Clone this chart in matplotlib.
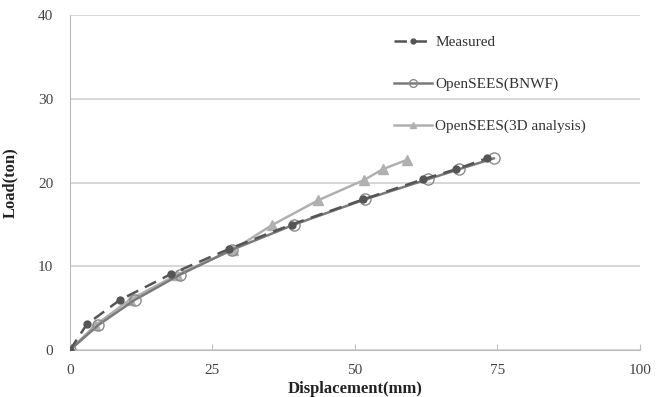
import matplotlib
matplotlib.use("Agg")
import matplotlib.pyplot as plt

# data
measured_x = [0, 3, 8.8, 17.8, 28, 38.9, 51.5, 62, 67.8, 73.2]
measured_y = [0, 3.1, 6.0, 9.1, 12.1, 15.0, 18.0, 20.4, 21.6, 22.9]

bnwf_x = [0, 5, 11.4, 19.3, 28.5, 39.4, 51.8, 62.8, 68.3, 74.4]
bnwf_y = [0, 3.0, 6.0, 9.0, 12.0, 15.0, 18.0, 20.4, 21.6, 22.9]

d3_x = [0, 4.5, 10.5, 18.8, 28.7, 35.4, 43.6, 51.6, 54.9, 59.1]
d3_y = [0, 3.0, 6.0, 9.0, 12.0, 14.9, 17.9, 20.3, 21.6, 22.7]

x_ticks = [0, 25, 50, 75, 100]
y_ticks = [0, 10, 20, 30, 40]

plt.rcParams['font.family'] = ['Liberation Serif', 'DejaVu Serif']

fig = plt.figure(figsize=(6.65, 3.97), dpi=100)
ax = fig.add_axes([0.105, 0.118, 0.857, 0.844])

ax.plot(measured_x, measured_y, color='#555555', linestyle=(0, (5, 3)), linewidth=1.8,
        marker='o', markersize=5, markerfacecolor='#555555', markeredgecolor='#555555',
        label='Measured', zorder=3)
ax.plot(bnwf_x, bnwf_y, color='#7a7a7a', linestyle='-', linewidth=1.8,
        marker='o', markersize=8, markerfacecolor='none', markeredgecolor='#8a8a8a',
        label='OpenSEES(BNWF)', zorder=2)
ax.plot(d3_x, d3_y, color='#b0b0b0', linestyle='-', linewidth=1.8,
        marker='^', markersize=7, markerfacecolor='#b0b0b0', markeredgecolor='#b0b0b0',
        label='OpenSEES(3D analysis)', zorder=1)

ax.set_xlim(0, 100)
ax.set_ylim(0, 40)
ax.set_xticks(x_ticks)
ax.set_yticks(y_ticks)
ax.yaxis.grid(True, color='#d0d0d0', linewidth=1.2)
ax.set_axisbelow(True)

for side in ['top', 'right']:
    ax.spines[side].set_visible(False)
ax.spines['left'].set_color('#bbbbbb')
ax.spines['bottom'].set_color('#bbbbbb')
ax.tick_params(axis='y', length=0, labelsize=11, colors='#444444', pad=12)
ax.tick_params(axis='x', length=4, direction='in', color='#bbbbbb', labelsize=11,
               labelcolor='#444444', pad=10)

ax.set_xlabel('Displacement(mm)', fontsize=12, fontweight='bold', color='#222222', labelpad=2.5)
ax.set_ylabel('Load(ton)', fontsize=12, fontweight='bold', color='#222222', labelpad=14)

ax.legend(loc='upper left', bbox_to_anchor=(0.545, 0.98), frameon=False, fontsize=11,
          labelspacing=1.85, handlelength=2.5, handletextpad=0.2, labelcolor='#333333',
          markerscale=0.7)

fig.savefig('out.png', dpi=100)
